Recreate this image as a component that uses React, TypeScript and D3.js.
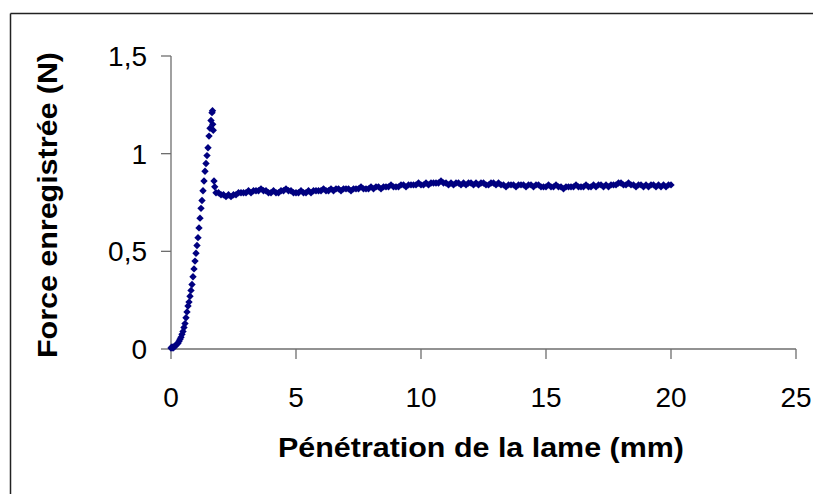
import React from "react";
import * as d3 from "d3";

// Rising part of the curve (mm, N)
const riseX = [0.00,0.04,0.08,0.12,0.16,0.20,0.24,0.28,0.32,0.36,0.40,0.44,0.48,0.52,0.56,0.60,0.64,0.68,0.72,0.76,0.80,0.84,0.88,0.92,0.96,1.00,1.04,1.08,1.12,1.16,1.20,1.24,1.28,1.32,1.36,1.40,1.44,1.48,1.52,1.56,1.60,1.64,1.66];
const riseY = [0.005,0.01,0.005,0.01,0.015,0.02,0.025,0.03,0.04,0.05,0.06,0.075,0.09,0.11,0.13,0.16,0.19,0.22,0.24,0.27,0.30,0.33,0.37,0.41,0.45,0.49,0.53,0.57,0.62,0.67,0.72,0.76,0.81,0.86,0.91,0.95,0.99,1.03,1.09,1.13,1.17,1.21,1.22];

// Break after the peak
const dropX = [1.67,1.69,1.72,1.75];
const dropY = [1.15,1.12,0.86,0.83];

// Plateau (mm, N)
const plateauX = [
  1.8,1.9,
  2.0,2.1,2.2,2.3,2.4,2.5,2.6,2.7,2.8,2.9,
  3.0,3.1,3.2,3.3,3.4,3.5,3.6,3.7,3.8,3.9,
  4.0,4.1,4.2,4.3,4.4,4.5,4.6,4.7,4.8,4.9,
  5.0,5.1,5.2,5.3,5.4,5.5,5.6,5.7,5.8,5.9,
  6.0,6.1,6.2,6.3,6.4,6.5,6.6,6.7,6.8,6.9,
  7.0,7.1,7.2,7.3,7.4,7.5,7.6,7.7,7.8,7.9,
  8.0,8.1,8.2,8.3,8.4,8.5,8.6,8.7,8.8,8.9,
  9.0,9.1,9.2,9.3,9.4,9.5,9.6,9.7,9.8,9.9,
  10.0,10.1,10.2,10.3,10.4,10.5,10.6,10.7,10.8,10.9,
  11.0,11.1,11.2,11.3,11.4,11.5,11.6,11.7,11.8,11.9,
  12.0,12.1,12.2,12.3,12.4,12.5,12.6,12.7,12.8,12.9,
  13.0,13.1,13.2,13.3,13.4,13.5,13.6,13.7,13.8,13.9,
  14.0,14.1,14.2,14.3,14.4,14.5,14.6,14.7,14.8,14.9,
  15.0,15.1,15.2,15.3,15.4,15.5,15.6,15.7,15.8,15.9,
  16.0,16.1,16.2,16.3,16.4,16.5,16.6,16.7,16.8,16.9,
  17.0,17.1,17.2,17.3,17.4,17.5,17.6,17.7,17.8,17.9,
  18.0,18.1,18.2,18.3,18.4,18.5,18.6,18.7,18.8,18.9,
  19.0,19.1,19.2,19.3,19.4,19.5,19.6,19.7,19.8,19.9,
  20.0
];
const plateauY = [
  0.80,0.80,
  0.79,0.79,0.78,0.79,0.78,0.79,0.79,0.80,0.80,0.80,
  0.80,0.81,0.80,0.81,0.81,0.81,0.82,0.81,0.81,0.80,
  0.80,0.81,0.80,0.80,0.81,0.81,0.82,0.81,0.81,0.80,
  0.80,0.80,0.81,0.80,0.80,0.81,0.80,0.81,0.81,0.81,
  0.81,0.82,0.81,0.81,0.82,0.81,0.82,0.82,0.81,0.82,
  0.82,0.82,0.81,0.82,0.82,0.82,0.83,0.82,0.82,0.82,
  0.83,0.82,0.83,0.83,0.82,0.83,0.83,0.83,0.84,0.83,
  0.83,0.83,0.84,0.84,0.83,0.84,0.84,0.84,0.84,0.85,
  0.84,0.84,0.85,0.84,0.85,0.85,0.85,0.85,0.86,0.85,
  0.85,0.84,0.85,0.84,0.85,0.85,0.84,0.85,0.84,0.85,
  0.85,0.84,0.85,0.84,0.85,0.85,0.84,0.84,0.85,0.85,
  0.84,0.85,0.84,0.84,0.83,0.84,0.84,0.84,0.83,0.84,
  0.84,0.84,0.83,0.84,0.84,0.83,0.84,0.84,0.83,0.83,
  0.83,0.84,0.83,0.83,0.84,0.83,0.83,0.82,0.83,0.83,
  0.83,0.83,0.84,0.83,0.83,0.83,0.84,0.83,0.83,0.84,
  0.83,0.84,0.84,0.83,0.84,0.83,0.84,0.84,0.84,0.85,
  0.85,0.84,0.84,0.85,0.84,0.84,0.83,0.84,0.84,0.83,
  0.84,0.83,0.84,0.84,0.83,0.84,0.83,0.84,0.83,0.84,
  0.84
];

const xTicks = [0, 5, 10, 15, 20, 25];
const yTicks = [0, 0.5, 1, 1.5];
const yTickLabels = ["0", "0,5", "1", "1,5"];
const xTitle = "Pénétration de la lame (mm)";
const yTitle = "Force enregistrée (N)";

const W = 813;
const H = 494;
const AXIS = "#6e6e6e";
const MARK = "#000080";
const FONT = "'Liberation Sans', Arial, sans-serif";

export default function App() {
  const x = d3.scaleLinear().domain([0, 25]).range([171, 796]);
  const y = d3.scaleLinear().domain([0, 1.5]).range([349, 56]);

  const points: [number, number][] = [];
  riseX.forEach((v, i) => points.push([v, riseY[i]]));
  dropX.forEach((v, i) => points.push([v, dropY[i]]));
  plateauX.forEach((v, i) => points.push([v, plateauY[i]]));

  const diamond = "M0,-3.7L3.7,0L0,3.7L-3.7,0Z";

  return (
    <svg
      width={W}
      height={H}
      style={{ position: "absolute", left: 0, top: 0, background: "#fff" }}
      fontFamily={FONT}
    >
      <rect x={0} y={0} width={W} height={H} fill="#fff" />
      {/* frame */}
      <line x1={10.5} y1={13.5} x2={W} y2={13.5} stroke="#222" strokeWidth={1.5} />
      <line x1={10.5} y1={13.5} x2={10.5} y2={H} stroke="#222" strokeWidth={1.5} />

      {/* axes */}
      <line x1={x(0)} y1={y(1.5)} x2={x(0)} y2={y(0)} stroke={AXIS} strokeWidth={1.3} />
      <line x1={x(0)} y1={y(0)} x2={x(25)} y2={y(0)} stroke={AXIS} strokeWidth={1.3} />
      {yTicks.map((t, i) => (
        <g key={"yt" + i}>
          <line x1={x(0) - 10} x2={x(0)} y1={y(t)} y2={y(t)} stroke={AXIS} strokeWidth={1.3} />
          <text
            x={147}
            y={y(t) + 10}
            textAnchor="end"
            fontSize={28}
            fill="#000"
          >
            {yTickLabels[i]}
          </text>
        </g>
      ))}
      {xTicks.map((t, i) => (
        <g key={"xt" + i}>
          <line x1={x(t)} x2={x(t)} y1={y(0)} y2={y(0) + 10} stroke={AXIS} strokeWidth={1.3} />
          <text x={x(t)} y={407} textAnchor="middle" fontSize={28} fill="#000">
            {String(t)}
          </text>
        </g>
      ))}

      {/* markers */}
      {points.map((p, i) => (
        <path key={i} d={diamond} transform={`translate(${x(p[0])},${y(p[1])})`} fill={MARK} />
      ))}

      {/* titles */}
      <text
        x={481}
        y={457}
        textAnchor="middle"
        fontSize={27}
        fontWeight="bold"
        fill="#000"
        textLength={406}
        lengthAdjust="spacingAndGlyphs"
      >
        {xTitle}
      </text>
      <text
        transform={`translate(57,205) rotate(-90)`}
        textAnchor="middle"
        fontSize={27}
        fontWeight="bold"
        fill="#000"
        textLength={306}
        lengthAdjust="spacingAndGlyphs"
      >
        {yTitle}
      </text>
    </svg>
  );
}
